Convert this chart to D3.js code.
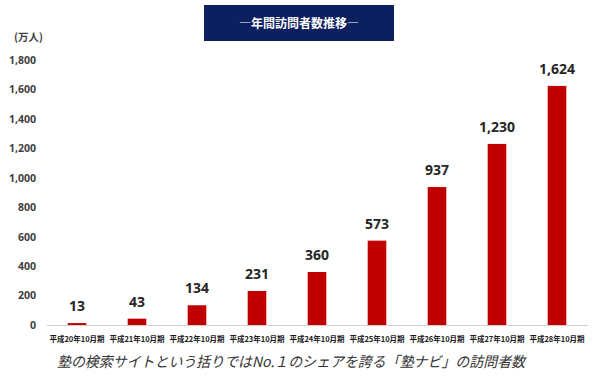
<!DOCTYPE html>
<html><head><meta charset="utf-8">
<script src="https://cdn.jsdelivr.net/npm/d3@7"></script>
<style>body{margin:0;background:#fff;}svg{display:block;}</style>
</head><body>
<svg id="c" width="600" height="380"></svg>
<script>
const categories = ["平成20年10月期","平成21年10月期","平成22年10月期","平成23年10月期","平成24年10月期","平成25年10月期","平成26年10月期","平成27年10月期","平成28年10月期"];
const visitors = [13, 43, 134, 231, 360, 573, 937, 1230, 1624];
const yTicks = [0, 200, 400, 600, 800, 1000, 1200, 1400, 1600, 1800];
const titleText = "―年間訪問者数推移―";
const unitText = "(万人)";
const captionText = "塾の検索サイトという括りではNo.１のシェアを誇る「塾ナビ」の訪問者数";

const svg = d3.select("#c");
const fontJP = "'Noto Sans CJK JP', 'Noto Sans', sans-serif";
const x = d3.scaleBand().domain(categories).range([47, 587]).paddingInner(0.69).paddingOuter(0.345);
const y = d3.scaleLinear().domain([0, 1800]).range([325, 60]);

// title box
svg.append("rect").attr("x", 204).attr("y", 5).attr("width", 190).attr("height", 36).attr("fill", "#0c1f5e");
svg.append("text").attr("x", 299).attr("y", 28).attr("text-anchor", "middle")
  .attr("font-family", fontJP).attr("font-weight", "bold").attr("font-size", 12).attr("fill", "#fff").text(titleText);

// unit
svg.append("text").attr("x", 14).attr("y", 41).attr("font-family", fontJP).attr("font-size", 10.5)
  .attr("font-weight", "bold").attr("fill", "#404040").text(unitText);

// y axis
const yAxis = d3.axisLeft(y).tickValues(yTicks).tickSize(0).tickPadding(0).tickFormat(d3.format(","));
const ya = svg.append("g").attr("transform", "translate(36,0)").call(yAxis);
ya.select(".domain").remove();
ya.selectAll("text").attr("font-family", "'Open Sans', 'DejaVu Sans', sans-serif").attr("font-size", 10.5)
  .attr("font-weight", "bold").attr("fill", "#404040");

// baseline
svg.append("line").attr("x1", 47).attr("x2", 588).attr("y1", y(0) + 0.5).attr("y2", y(0) + 0.5)
  .attr("stroke", "#d0d0d0").attr("stroke-width", 1);

// bars
svg.append("g").selectAll("rect").data(visitors).join("rect")
  .attr("x", (d, i) => x(categories[i]))
  .attr("width", x.bandwidth())
  .attr("y", d => y(d))
  .attr("height", d => y(0) - y(d))
  .attr("fill", "#c00000");

// value labels
svg.append("g").selectAll("text").data(visitors).join("text")
  .attr("x", (d, i) => x(categories[i]) + x.bandwidth() / 2)
  .attr("y", d => y(d) - 12)
  .attr("text-anchor", "middle")
  .attr("font-family", "'Open Sans', 'DejaVu Sans', sans-serif").attr("font-size", 14).attr("font-weight", "bold")
  .attr("fill", "#262626")
  .text(d => d3.format(",")(d));

// x axis labels
const xAxis = d3.axisBottom(x).tickSize(0).tickPadding(12);
const xa = svg.append("g").attr("transform", `translate(0,${y(0)})`).call(xAxis);
xa.select(".domain").remove();
xa.selectAll("text").attr("font-family", fontJP).attr("font-size", 7.5).attr("font-weight", "bold").attr("fill", "#1a1a1a");

// caption
svg.append("text").attr("x", 57).attr("y", 367).attr("font-family", fontJP).attr("font-size", 14.5)
  .attr("font-style", "italic").attr("fill", "#333").attr("textLength", 468).attr("lengthAdjust", "spacingAndGlyphs")
  .text(captionText);
</script>
</body></html>
